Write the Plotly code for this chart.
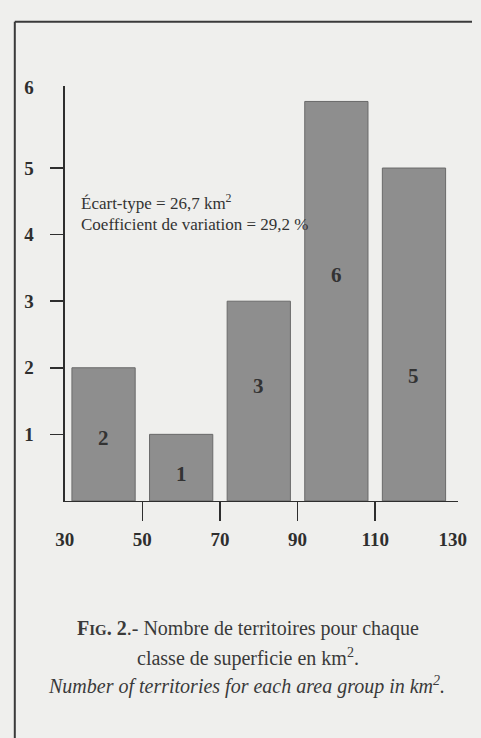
import plotly.graph_objects as go

# ---- data ----
class_centers = [40, 60, 80, 100, 120]          # area classes (km2)
counts = [2, 1, 3, 6, 5]                          # number of territories
count_labels = ["2", "1", "3", "6", "5"]
x_tick_vals = [30, 50, 70, 90, 110, 130]
x_tick_text = ["30", "50", "70", "90", "110", "130"]
x_mark_vals = [50, 70, 90, 110]
y_tick_vals = [1, 2, 3, 4, 5]
y_tick_text = ["1", "2", "3", "4", "5", "6"]
stats_lines = ["Écart-type = 26,7 km<sup>2</sup>", "Coefficient de variation = 29,2 %"]
caption_fr = ["<b>F<span style='font-size:15px'>IG</span>. 2</b>.- Nombre de territoires pour chaque",
              "classe de superficie en km<sup>2</sup>."]
caption_en = "<i>Number of territories for each area group in km<sup>2</sup>.</i>"

# label placement (style only)
label_y = [0.95, 0.4, 1.73, 3.4, 1.88]
top_label_pos = 6.21

W, H = 481, 738
BG = "#efefed"
INK = "#2e2e2e"
SERIF = "Liberation Serif, Times New Roman, serif"

x0px, x1px = 57, 466
ybase, ytop = 498, 78
ppu = 67.4
xr = [30, 30 + (x1px - x0px) / 4.04]
yr = [0, (ybase - ytop) / ppu]
xdom = [x0px / W, x1px / W]
ydom = [1 - ybase / H, 1 - ytop / H]

fig = go.Figure()
fig.add_trace(go.Bar(
    x=class_centers, y=counts, width=16.3,
    marker=dict(color="#8e8e8e", line=dict(color="#6a6a6a", width=1)),
    showlegend=False, hoverinfo="skip",
))
fig.add_trace(go.Scatter(x=[None], y=[None], xaxis="x2", yaxis="y2", showlegend=False))

fig.update_layout(
    width=W, height=H,
    margin=dict(l=0, r=0, t=0, b=0),
    paper_bgcolor=BG, plot_bgcolor="rgba(0,0,0,0)",
    bargap=0,
    xaxis=dict(domain=xdom, range=xr, showgrid=False, zeroline=False,
               showline=True, linecolor=INK, linewidth=1.5,
               tickvals=x_mark_vals, ticks="outside", ticklen=19, tickwidth=1.5,
               tickcolor=INK, showticklabels=False, anchor="y"),
    yaxis=dict(domain=ydom, range=yr, showgrid=False, zeroline=False,
               showline=True, linecolor=INK, linewidth=1.5,
               tickvals=y_tick_vals, ticks="outside", ticklen=13, tickwidth=1.5,
               tickcolor=INK, showticklabels=False, anchor="x"),
    xaxis2=dict(domain=xdom, range=xr, overlaying="x", anchor="y2", side="bottom",
                showgrid=False, zeroline=False, showline=False, ticks="",
                tickvals=x_tick_vals, ticktext=x_tick_text, ticklabelstandoff=25,
                tickfont=dict(family=SERIF, size=19, color=INK, weight="bold")),
    yaxis2=dict(domain=ydom, range=yr, overlaying="y", anchor="x2", side="left",
                showgrid=False, zeroline=False, showline=False, ticks="",
                tickvals=y_tick_vals + [top_label_pos], ticktext=y_tick_text,
                ticklabelstandoff=30,
                tickfont=dict(family=SERIF, size=19, color=INK, weight="bold")),
)

for xc, ly, t in zip(class_centers, label_y, count_labels):
    fig.add_annotation(x=xc, y=ly, xref="x", yref="y", text="<b>" + t + "</b>",
                       showarrow=False, font=dict(family=SERIF, size=21, color="#333333"))

for i, line in enumerate(stats_lines):
    fig.add_annotation(x=72 / W, y=1 - (195 + 23 * i) / H, xref="paper", yref="paper",
                       xanchor="left", yanchor="middle", text=line, showarrow=False,
                       font=dict(family=SERIF, size=17, color="#333333"))

for i, line in enumerate(caption_fr):
    fig.add_annotation(x=248 / W, y=1 - (627 + 29 * i) / H, xref="paper", yref="paper",
                       xanchor="center", yanchor="middle", text=line, showarrow=False,
                       font=dict(family=SERIF, size=20, color="#3a3a3a"))
fig.add_annotation(x=246 / W, y=1 - 685 / H, xref="paper", yref="paper",
                   xanchor="center", yanchor="middle", text=caption_en, showarrow=False,
                   font=dict(family=SERIF, size=20, color="#3a3a3a"))

# frame (left and top edges visible; kept inside the figure)
fig.add_shape(type="line", xref="paper", yref="paper", x0=5 / W, x1=1, y0=1 - 13 / H, y1=1 - 13 / H,
              line=dict(color="#3a3a3a", width=2), layer="below")
fig.add_shape(type="line", xref="paper", yref="paper", x0=5 / W, x1=5 / W, y0=0, y1=1 - 13 / H,
              line=dict(color="#3a3a3a", width=2), layer="below")

fig.write_html("out.html", config={"staticPlot": True, "displayModeBar": False},
               post_script="document.body.style.margin='0px';"
                           "document.body.style.background='#efefed';"
                           "document.body.style.overflow='hidden';")
